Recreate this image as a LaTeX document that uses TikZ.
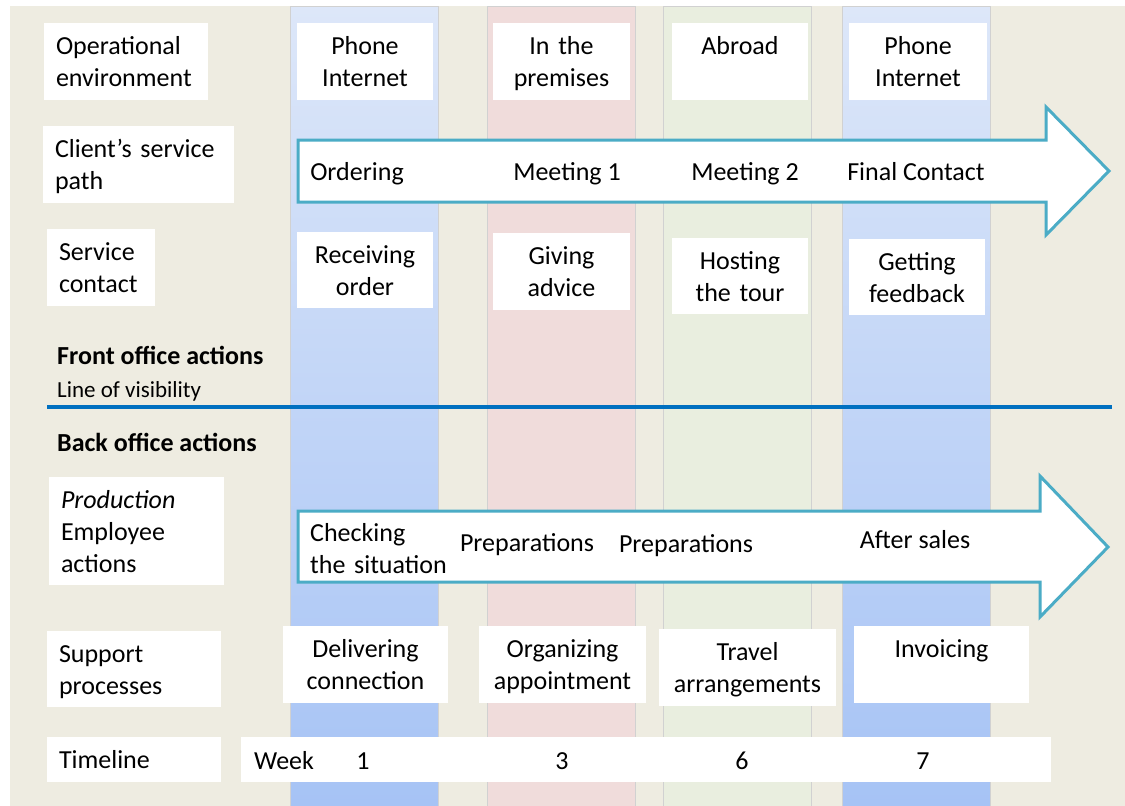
\documentclass[tikz,border=0pt]{standalone}
\usepackage{fontspec}
\setmainfont{Carlito}
\usepackage{tikz}
\usetikzlibrary{positioning}

\definecolor{tanbg}{HTML}{EEECE1}
\definecolor{bluetop}{HTML}{DDE7F9}
\definecolor{bluebot}{HTML}{A6C3F5}
\definecolor{pinkcol}{HTML}{F0DCDB}
\definecolor{greencol}{HTML}{E9EEDF}
\definecolor{aqua}{HTML}{4BACC6}
\definecolor{visline}{HTML}{0070C0}
\newcommand\rowstrut{\rule[-7pt]{0pt}{32pt}}

\begin{document}
\begin{tikzpicture}[x=1pt,y=-1pt,
    every node/.style={font=\fontsize{26}{32}\selectfont, inner sep=0pt,
        execute at begin node=\rowstrut, execute at end node=\rowstrut},
    box/.style={fill=white, minimum height=77pt},
    lbl/.style={box, align=left, inner xsep=12pt, text width=#1},
    cbox/.style={box, align=center, text width=#1},
    column/.style={draw=black!18, line width=1pt},
    bigarrow/.style={fill=white, draw=aqua, line width=3pt, line join=miter}]
    \useasboundingbox (0,0) rectangle (1125,806);
    \fill[white] (0,0) rectangle (1125,806);
    \fill[tanbg] (10,6) rectangle (1125,806);

    % phase columns
    \draw[column, top color=bluetop, bottom color=bluebot] (290,6) rectangle (438,806);
    \draw[column, fill=pinkcol] (487,6) rectangle (635,806);
    \draw[column, fill=greencol] (663,6) rectangle (811,806);
    \draw[column, top color=bluetop, bottom color=bluebot] (842,6) rectangle (990,806);

    % row labels
    \node[lbl=140pt] (envlbl) at (126,61.5) {Operational\\environment};
    \node[lbl=167pt] (pathlbl) at (138.5,164.5) {Client’s service\\path};
    \node[lbl=84pt] (contactlbl) at (101,267.5) {Service\\contact};
    \node[anchor=west, font=\fontsize{26}{32}\selectfont\bfseries] (frontlbl) at (57,355) {Front office actions};
    \node[anchor=west, font=\fontsize{23}{28}\selectfont] (vislbl) at (57,388) {Line of visibility};
    \draw[visline, line width=3.5pt] (47,407) -- (1112,407);
    \node[anchor=west, font=\fontsize{26}{32}\selectfont\bfseries] (backlbl) at (57,442) {Back office actions};
    \node[lbl=151pt, minimum height=108pt] (emplbl) at (136.5,531) {\textit{Production}\\Employee\\actions};
    \node[lbl=150pt, minimum height=76pt] (supportlbl) at (134,669) {Support\\processes};
    \node[lbl=150pt, minimum height=45pt] (timelbl) at (134,759.5) {Timeline};

    % operational environment
    \node[cbox=136pt] (env1) at (365,61.5) {Phone\\Internet};
    \node[cbox=137pt] (env2) at (561.5,61.5) {In the\\premises};
    \node[cbox=136pt] (env3) at (740,61.5) {Abroad\\\mbox{}};
    \node[cbox=138pt] (env4) at (918,61.5) {Phone\\Internet};

    % client's service path
    \draw[bigarrow] (298,140) -- (1046,140) -- (1046,107) -- (1109,171)
        -- (1046,235) -- (1046,202) -- (298,202) -- cycle;
    \node (ordering) at (357,171) {Ordering};
    \node (meet1) at (567,171) {Meeting 1};
    \node (meet2) at (745,171) {Meeting 2};
    \node (final) at (916,171) {Final Contact};

    % service contact
    \node[cbox=136pt, minimum height=76pt] (contact1) at (365,270) {Receiving\\order};
    \node[cbox=137pt] (contact2) at (561.5,271.5) {Giving\\advice};
    \node[cbox=136pt, minimum height=76pt] (contact3) at (740,276) {Hosting\\the tour};
    \node[cbox=136pt, minimum height=76pt] (contact4) at (917,277) {Getting\\feedback};

    % employee actions
    \draw[bigarrow] (298,511) -- (1040,511) -- (1040,476) -- (1108,547)
        -- (1040,617) -- (1040,582) -- (298,582) -- cycle;
    \node[anchor=west, align=left, text width=140pt] (check) at (310,548) {Checking\\the situation};
    \node (prep1) at (527,542) {Preparations};
    \node (prep2) at (686,543) {Preparations};
    \node (after) at (915,539) {After sales};

    % support processes
    \node[cbox=165pt] (support1) at (365.5,664.5) {Delivering\\connection};
    \node[cbox=167pt] (support2) at (562.5,664.5) {Organizing\\appointment};
    \node[cbox=177pt] (support3) at (747.5,667.5) {Travel\\arrangements};
    \node[cbox=175pt] (support4) at (941.5,664.5) {Invoicing\\\mbox{}};

    % timeline
    \node[box, minimum width=810pt, minimum height=45pt] (timebar) at (646,759.5) {};
    \node (week) at (284,760) {Week};
    \node (wk1) at (363,760) {1};
    \node (wk3) at (562,760) {3};
    \node (wk6) at (742,760) {6};
    \node (wk7) at (923,760) {7};
\end{tikzpicture}
\end{document}
